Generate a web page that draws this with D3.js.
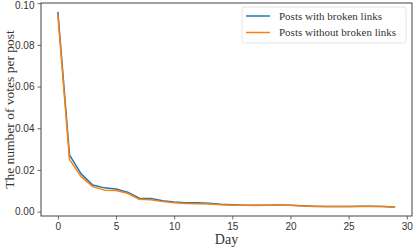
<!DOCTYPE html>
<html>
<head>
<meta charset="utf-8">
<script src="https://cdn.jsdelivr.net/npm/d3@7"></script>
<style>
  body { margin: 0; background: #fff; }
  svg { font-family: "Liberation Serif", "DejaVu Serif", serif; }
</style>
</head>
<body>
<div id="chart"></div>
<script>
'use strict';

const days = d3.range(0, 30);
const withBroken = [0.0959, 0.0272, 0.0181, 0.0128, 0.0114, 0.0109, 0.0093, 0.0064, 0.0063, 0.0052,
    0.0046, 0.0042, 0.0042, 0.0040, 0.0035, 0.0033, 0.0031, 0.0030, 0.0031, 0.0032,
    0.0031, 0.0028, 0.0026, 0.0025, 0.0025, 0.0025, 0.0026, 0.0026, 0.0025, 0.0022];
const withoutBroken = [0.0943, 0.0251, 0.0168, 0.0120, 0.0103, 0.0101, 0.0088, 0.0059, 0.0057, 0.0048,
    0.0043, 0.0039, 0.0038, 0.0037, 0.0033, 0.0031, 0.0030, 0.0029, 0.0030, 0.0031,
    0.0030, 0.0027, 0.0025, 0.0024, 0.0024, 0.0024, 0.0025, 0.0025, 0.0024, 0.0021];
const seriesNames = ['Posts with broken links', 'Posts without broken links'];
const xTicks = [0, 5, 10, 15, 20, 25, 30];
const yTicks = [0, 0.02, 0.04, 0.06, 0.08, 0.10];

const size = { width: 415, height: 249 };
const margin = { top: 3, right: 3, bottom: 33, left: 41 };
const colors = ['#1f77b4', '#ff7f0e'];

const svg = d3.select('#chart')
    .append('svg')
    .attr('width', size.width)
    .attr('height', size.height);

const x = d3.scaleLinear()
    .domain([-1.45, 30.45])
    .range([margin.left, size.width - margin.right]);
const y = d3.scaleLinear()
    .domain([-0.0021, 0.1001])
    .range([size.height - margin.bottom, margin.top]);

// lines
const line = d3.line()
    .x((d, i) => x(days[i]))
    .y(d => y(d));

[withBroken, withoutBroken].forEach((s, i) => {
    svg.append('path')
        .datum(s)
        .attr('fill', 'none')
        .attr('stroke', colors[i])
        .attr('stroke-width', 1.5)
        .attr('stroke-linejoin', 'round')
        .attr('d', line);
});

// axes
const xAxis = svg.append('g')
    .attr('transform', `translate(0,${size.height - margin.bottom})`)
    .call(d3.axisBottom(x).tickValues(xTicks).tickFormat(d3.format('d')).tickSize(3.5).tickPadding(3));
const yAxis = svg.append('g')
    .attr('transform', `translate(${margin.left},0)`)
    .call(d3.axisLeft(y).tickValues(yTicks).tickFormat(d3.format('.2f')).tickSize(3.5).tickPadding(3));

[xAxis, yAxis].forEach(a => {
    a.select('.domain').remove();
    a.selectAll('line').attr('stroke', '#444').attr('stroke-width', 0.8);
    a.selectAll('text').attr('fill', '#333').style('font-size', '10px');
});
// top label sits right at the edge, nudge it down so it isn't clipped
yAxis.selectAll('text').filter(d => d === 0.10).attr('dy', '0.5em');

// frame
svg.append('rect')
    .attr('x', margin.left)
    .attr('y', margin.top)
    .attr('width', size.width - margin.left - margin.right)
    .attr('height', size.height - margin.top - margin.bottom)
    .attr('fill', 'none')
    .attr('stroke', '#444')
    .attr('stroke-width', 1);

// labels
svg.append('text')
    .attr('x', x(14.5))
    .attr('y', 244)
    .attr('text-anchor', 'middle')
    .attr('fill', '#333')
    .style('font-size', '14px')
    .text('Day');

svg.append('text')
    .attr('transform', `translate(14,${y(0.049)}) rotate(-90)`)
    .attr('text-anchor', 'middle')
    .attr('fill', '#333')
    .style('font-size', '13.5px')
    .text('The number of votes per post');

// legend
const legend = svg.append('g').attr('transform', 'translate(242,7)');
legend.append('rect')
    .attr('width', 164)
    .attr('height', 36)
    .attr('rx', 2.5)
    .attr('fill', '#fff')
    .attr('fill-opacity', 0.8)
    .attr('stroke', '#ddd')
    .attr('stroke-width', 0.8);

seriesNames.forEach((name, i) => {
    const g = legend.append('g').attr('transform', `translate(0,${9 + i * 16.5})`);
    g.append('line')
        .attr('x1', 4).attr('x2', 28)
        .attr('stroke', colors[i])
        .attr('stroke-width', 1.5);
    g.append('text')
        .attr('x', 37)
        .attr('dy', '0.33em')
        .attr('fill', '#333')
        .style('font-size', '11px')
        .text(name);
});
</script>
</body>
</html>
